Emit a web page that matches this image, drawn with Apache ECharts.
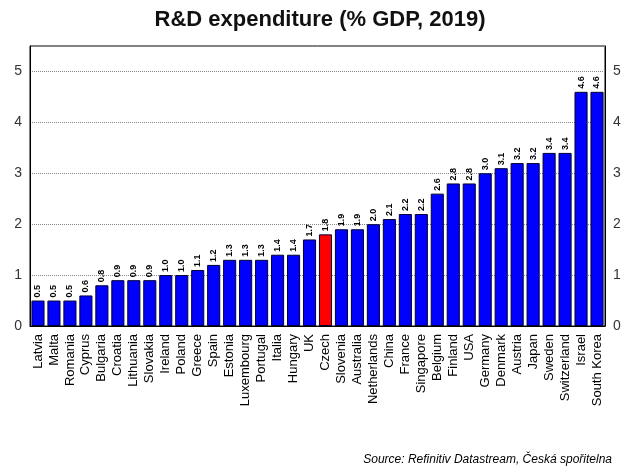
<!DOCTYPE html><html><head><meta charset="utf-8"><script src="https://cdn.jsdelivr.net/npm/echarts@6/dist/echarts.min.js"></script></head><body style="margin:0"><div id="c" style="width:640px;height:474px"></div><script>
const categories=['Latvia','Malta','Romania','Cyprus','Bulgaria','Croatia','Lithuania','Slovakia','Ireland','Poland','Greece','Spain','Estonia','Luxembourg','Portugal','Italia','Hungary','UK','Czech','Slovenia','Australia','Netherlands','China','France','Singapore','Belgium','Finland','USA','Germany','Denmark','Austria','Japan','Sweden','Switzerland','Israel','South Korea'];
const values=[0.5,0.5,0.5,0.6,0.8,0.9,0.9,0.9,1.0,1.0,1.1,1.2,1.3,1.3,1.3,1.4,1.4,1.7,1.8,1.9,1.9,2.0,2.1,2.2,2.2,2.6,2.8,2.8,3.0,3.1,3.2,3.2,3.4,3.4,4.6,4.6];
const highlight='Czech';
const yTicks=[0,1,2,3,4,5];
const ch=echarts.init(document.getElementById('c'));
const yAx=(pos)=>({type:'value',position:pos,min:0,max:5.5,interval:1,axisLine:{show:true,lineStyle:{color:'#000'}},axisTick:{show:false},
 axisLabel:{color:'#333',fontSize:14,fontFamily:'Arial',formatter:v=>yTicks.includes(v)?String(v):''},splitLine:{show:pos==='left',lineStyle:{type:'dotted',color:'#888'}}});
ch.setOption({animation:false,
 title:{text:'R&D expenditure (% GDP, 2019)',left:'center',top:4,textStyle:{fontSize:22,fontWeight:'bold',color:'#111',fontFamily:'Arial'}},
 graphic:[{type:'text',right:28,bottom:8,style:{text:'Source: Refinitiv Datastream, Česká spořitelna',font:'italic 12px Arial',fill:'#000'}}],
 grid:{left:30,right:35,top:46,bottom:148,show:true,borderColor:'#000',borderWidth:1},
 xAxis:{type:'category',data:categories,axisLine:{lineStyle:{color:'#000'}},axisTick:{show:false},axisLabel:{rotate:90,interval:0,color:'#000',fontSize:13,fontFamily:'Arial'}},
 yAxis:[yAx('left'),yAx('right')],
 series:[{type:'bar',barCategoryGap:'18%',data:categories.map((c,i)=>({value:values[i],itemStyle:{color:c===highlight?'#ff0000':'#0000ff'}})),
  itemStyle:{borderColor:'#000033',borderWidth:1},
  label:{show:true,position:'top',rotate:90,align:'left',verticalAlign:'middle',distance:3,fontSize:9,fontWeight:'bold',color:'#000',formatter:p=>p.value.toFixed(1)}}]
});
</script></body></html>
